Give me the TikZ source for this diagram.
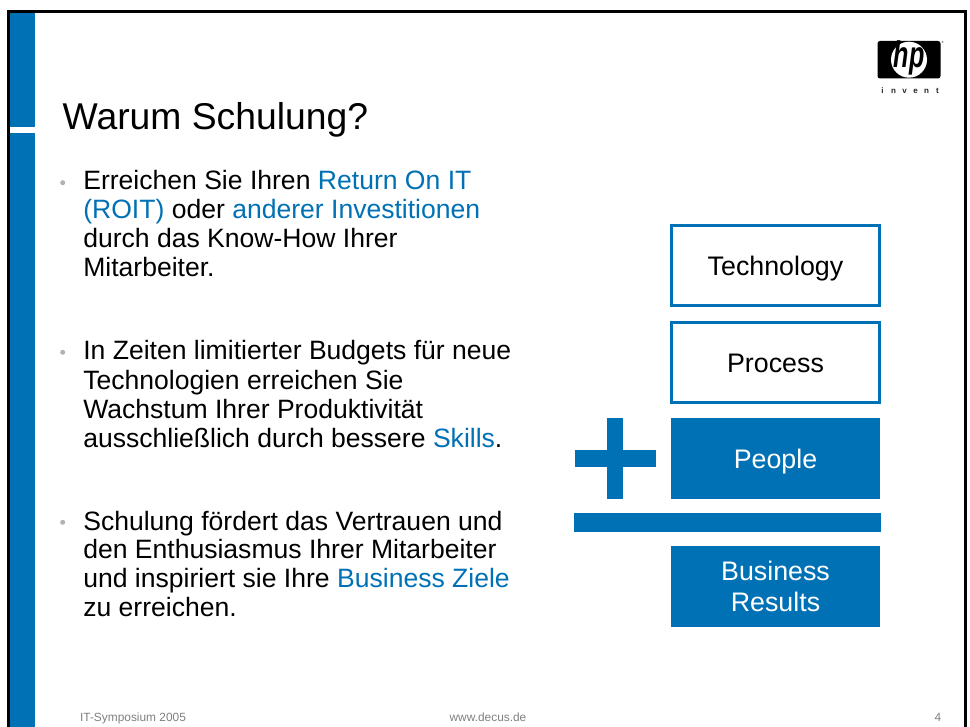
\documentclass[tikz,border=0pt]{standalone}
\usepackage{fontspec}
\setmainfont{Liberation Sans}
\definecolor{hpblue}{RGB}{0,113,181}
\definecolor{footgray}{RGB}{128,128,128}
\definecolor{bulletgray}{RGB}{178,178,178}
\tikzset{
  txt/.style={anchor=base west,inner sep=0pt,outer sep=0pt,text=black},
  bodytxt/.style={txt,font=\fontsize{26.55}{29}\selectfont},
  foot/.style={anchor=base,inner sep=0pt,text=footgray,font=\fontsize{11.9}{13}\selectfont},
  bul/.style={circle,fill=bulletgray,draw=none,minimum size=5pt,inner sep=0pt},
  boxfont/.style={font=\fontsize{26.8}{31.7}\selectfont},
  oneline/.style={text height=21.5pt,text depth=2pt},
  whitebox/.style={boxfont,oneline,draw=hpblue,line width=3pt,fill=white,minimum width=208pt,minimum height=80pt,inner sep=0pt,text=black},
  bluebox/.style={boxfont,draw=none,fill=hpblue,minimum width=209pt,minimum height=81pt,inner sep=0pt,text=white,align=center},
  bar/.style={fill=hpblue,draw=none},
}
\newcommand{\bl}[1]{\textcolor{hpblue}{#1}}
\newcommand{\lt}[1]{\makebox[11pt][c]{#1}}
\begin{document}
\begin{tikzpicture}[x=1pt,y=-1pt]
\useasboundingbox (0,0) rectangle (970,727);
\fill[white] (0,0) rectangle (970,727);
% frame and side band
\fill[bar] (10,12.7) rectangle (35,126.7);
\fill[bar] (10,132.7) rectangle (35,727);
\draw[black,line width=3pt] (8.6,727) -- (8.6,11.4) -- (965.5,11.4) -- (965.5,727);
% logo
\fill[black,rounded corners=2.5pt] (877.5,41) rectangle (940.5,78.5);
\fill[white] (909,59.7) circle (18);
\node[inner sep=0pt,text=black,xscale=.68,transform shape,font=\fontsize{37}{37}\selectfont\itshape\bfseries] (hp) at (909,58) {hp};
\fill[black!45] (942.7,42) circle (1);
\node[inner sep=0pt,text=black!85,font=\fontsize{8}{9}\selectfont\bfseries] (inv) at (910,91) {\lt{i}\lt{n}\lt{v}\lt{e}\lt{n}\lt{t}};
% title
\node[txt,font=\fontsize{37.3}{40}\selectfont] (title) at (62.7,130) {Warum Schulung?};
% bullets
\node[bul] (b1) at (62.7,182.7) {};
\node[bul] (b2) at (62.7,352.3) {};
\node[bul] (b3) at (62.7,522.3) {};
\node[bodytxt] (l1) at (83.3,189.5) {Erreichen Sie Ihren \bl{Return On IT}};
\node[bodytxt] (l2) at (83.3,218.5) {\bl{(ROIT)} oder \bl{anderer Investitionen}};
\node[bodytxt] (l3) at (83.3,247.6) {durch das Know-How Ihrer};
\node[bodytxt] (l4) at (83.3,276.7) {Mitarbeiter.};
\node[bodytxt] (l5) at (83.3,360) {In Zeiten limitierter Budgets für neue};
\node[bodytxt] (l6) at (83.3,389.2) {Technologien erreichen Sie};
\node[bodytxt] (l7) at (83.3,418.2) {Wachstum Ihrer Produktivität};
\node[bodytxt] (l8) at (83.3,447) {ausschließlich durch bessere \bl{Skills}.};
\node[bodytxt] (l9) at (83.3,530) {Schulung fördert das Vertrauen und};
\node[bodytxt] (l10) at (83.3,558.5) {den Enthusiasmus Ihrer Mitarbeiter};
\node[bodytxt] (l11) at (83.3,587.4) {und inspiriert sie Ihre \bl{Business Ziele}};
\node[bodytxt] (l12) at (83.3,616.3) {zu erreichen.};
% boxes
\node[whitebox] (tech) at (775.5,266) {Technology};
\node[whitebox] (proc) at (775.5,362.4) {Process};
\node[bluebox,oneline] (people) at (775.5,458.5) {People};
\node[bluebox] (results) at (775.5,586.5) {Business\\Results};
% plus and bar
\fill[bar] (607.3,418) rectangle (623.3,498.5);
\fill[bar] (575,450) rectangle (656,466.5);
\fill[bar] (574,513) rectangle (880.7,531.7);
% footer
\node[foot] (f1) at (133,721.7) {IT-Symposium 2005};
\node[foot] (f2) at (488,721.7) {www.decus.de};
\node[foot] (f3) at (938,721.7) {4};
\end{tikzpicture}
\end{document}
